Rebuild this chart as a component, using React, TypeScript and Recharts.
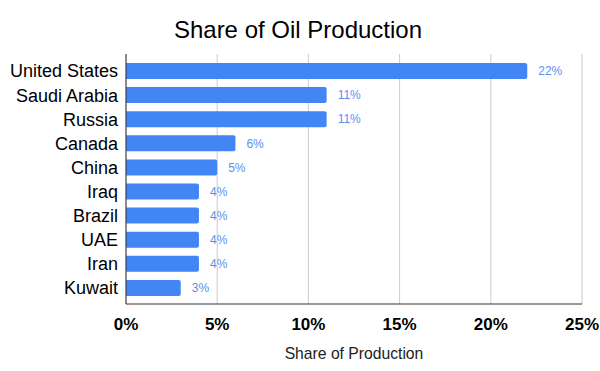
import { BarChart, Bar, XAxis, YAxis, CartesianGrid, LabelList } from 'recharts';

const countries = [
  'United States',
  'Saudi Arabia',
  'Russia',
  'Canada',
  'China',
  'Iraq',
  'Brazil',
  'UAE',
  'Iran',
  'Kuwait',
];
const shares = [22, 11, 11, 6, 5, 4, 4, 4, 4, 3];
const xTicks = [0, 5, 10, 15, 20, 25];

const FONT = 'Arial, "Liberation Sans", sans-serif';

export default function App() {
  const data = countries.map((name, i) => ({ name, share: shares[i] }));

  return (
    <div style={{ position: 'absolute', left: 0, top: 0, width: 600, height: 371, background: '#fff', fontFamily: FONT }}>
      <div
        style={{
          position: 'absolute',
          left: 0,
          top: 18,
          width: 596,
          textAlign: 'center',
          fontSize: 24,
          lineHeight: '24px',
          color: '#000',
        }}
      >
        Share of Oil Production
      </div>
      <BarChart
        width={600}
        height={371}
        data={data}
        layout="vertical"
        margin={{ top: 54, right: 18, bottom: 0, left: 0 }}
        style={{ fontFamily: FONT }}
      >
        <CartesianGrid horizontal={false} stroke="#cccccc" />
        <XAxis
          type="number"
          domain={[0, 25]}
          ticks={xTicks}
          tickFormatter={(v: number) => `${v}%`}
          axisLine={{ stroke: '#333' }}
          tickLine={false}
          tickMargin={8}
          height={67}
          tick={{ fontSize: 17, fontWeight: 'bold', fill: '#000' }}
          label={{ value: 'Share of Production', position: 'insideBottom', offset: 12, style: { fontSize: 15.7, fill: '#222' } }}
        />
        <YAxis
          type="category"
          dataKey="name"
          width={126}
          axisLine={{ stroke: '#333' }}
          tickLine={false}
          padding={{ top: 5, bottom: 4 }}
          interval={0}
          tick={{ fontSize: 18, fill: '#000' }}
        />
        <Bar dataKey="share" fill="#4285F4" barSize={16} radius={[0, 2, 2, 0]} isAnimationActive={false}>
          <LabelList
            dataKey="share"
            position="right"
            offset={11}
            formatter={(v: number) => `${v}%`}
            style={{ fontSize: 12, fill: '#5a8ff0' }}
          />
        </Bar>
      </BarChart>
    </div>
  );
}
